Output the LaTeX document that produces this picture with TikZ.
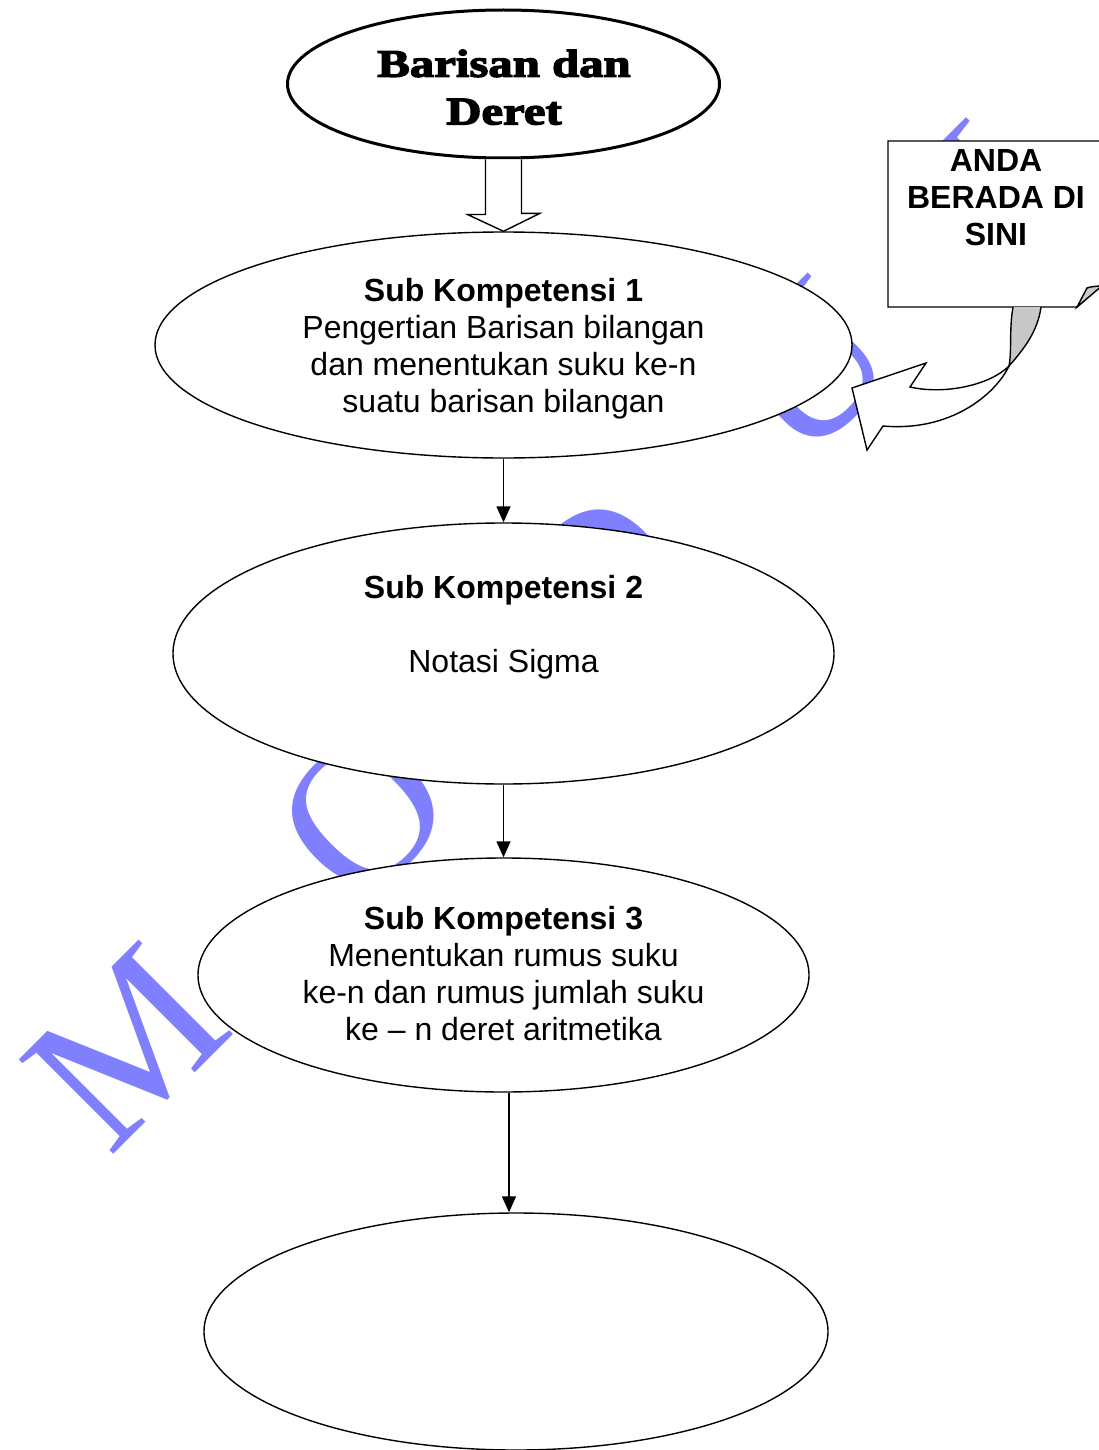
\documentclass[tikz,border=0pt]{standalone}
\usepackage{fontspec}
\setmainfont{Liberation Sans}
\newfontfamily\titlefont[FakeBold=3.5,FakeStretch=1.25]{Liberation Serif}
\newfontfamily\wmfont{Liberation Serif}
\usetikzlibrary{shapes.geometric,arrows.meta}

\definecolor{wmblue}{RGB}{128,128,255}
\definecolor{foldgray}{RGB}{200,200,200}

\begin{document}
\begin{tikzpicture}[x=1pt,y=-1pt,
  oval/.style={ellipse,draw,fill=white,line width=1.4pt,inner sep=0pt},
  conn/.style={line width=1.5pt,-{Triangle[length=16pt,width=14pt]}},
  body/.style={font=\fontsize{32}{36.8}\selectfont,align=center,inner sep=0pt,anchor=north},
  wm/.style={text=wmblue,font=\wmfont\fontsize{204}{204}\selectfont,rotate=45,anchor=base,inner sep=0pt},
  outline/.style={line width=1.4pt,line join=miter}]

\useasboundingbox (0,0) rectangle (1099,1450);
\clip (0,0) rectangle (1099,1450);
\fill[white] (0,0) rectangle (1099,1450);

% background lettering
\node[wm] (wmM) at (174,1094) {M};
\node[wm] (wmO) at (411,860) {O};
\node[wm] (wmD) at (647,626) {D};
\node[wm] (wmU) at (854,416) {U};
\node[wm] (wmL) at (1061,212) {L};

% main chart
\node[oval,line width=3pt,minimum width=432pt,minimum height=148pt] (title) at (503.5,84) {};
\node[font=\titlefont\bfseries\fontsize{39}{47.6}\selectfont,align=center,inner sep=0pt,anchor=north]
  (titletext) at (504,49.5) {Barisan dan\\Deret};

\node[oval,minimum width=697pt,minimum height=226pt] (e1) at (503.5,345) {};
\node[oval,minimum width=661pt,minimum height=261pt] (e2) at (503.5,653.5) {};
\node[oval,minimum width=611pt,minimum height=234pt] (e3) at (503.5,975) {};
\node[oval,minimum width=624pt,minimum height=237pt] (e4) at (516,1331.5) {};

\node[body] (t1) at (503.5,278.6)
  {\textbf{Sub Kompetensi 1}\\Pengertian Barisan bilangan\\dan menentukan suku ke-n\\suatu barisan bilangan};
\node[body] (t2) at (503.5,575.5)
  {\textbf{Sub Kompetensi 2}\\[36.8pt]Notasi Sigma};
\node[body] (t3) at (503.5,906.6)
  {\textbf{Sub Kompetensi 3}\\Menentukan rumus suku\\ke-n dan rumus jumlah suku\\ke – n deret aritmetika};

% hollow block arrow from the title
\draw[outline,fill=white] ([xshift=-18pt]title.south) -- ++(0,55) -- ++(-18,0) -- (e1.north)
  -- ++(36.5,-18) -- ++(-18.5,0) -- ([xshift=18pt]title.south);

% connectors
\draw[conn] (e1.south) -- (e2.north);
\draw[conn] (e2.south) -- (e3.north);
\draw[conn] ([xshift=5.5pt]e3.south) -- ([xshift=-7pt]e4.north);

% note with folded corner
\draw[outline,fill=white] (1110,141) -- (888,141) -- (888,307) -- (1077,307) -- (1103,284);
\filldraw[outline,fill=foldgray] (1077,307) -- (1087,288) .. controls (1092,286) and (1096,287) .. (1103,285) -- cycle;
\node[font=\bfseries\fontsize{32}{36.8}\selectfont,align=center,inner sep=0pt,anchor=north]
  (note) at (996,149.5) {ANDA\\BERADA DI\\SINI};

% twisted pointer from the note
\fill[foldgray] (1013,307) .. controls (1009,330) and (1012,350) .. (1009,366)
  .. controls (1025,348) and (1038,330) .. (1041,307) -- cycle;
\draw[outline] (1013,307) .. controls (1009,330) and (1012,350) .. (1009,366)
  .. controls (1025,348) and (1038,330) .. (1041,307);
\filldraw[outline,fill=white] (1009,366) .. controls (995,395) and (950,432) .. (883,426)
  -- (867,450) -- (852,388) -- (926,363) -- (910,387)
  .. controls (945,395) and (990,385) .. cycle;
\end{tikzpicture}
\end{document}
